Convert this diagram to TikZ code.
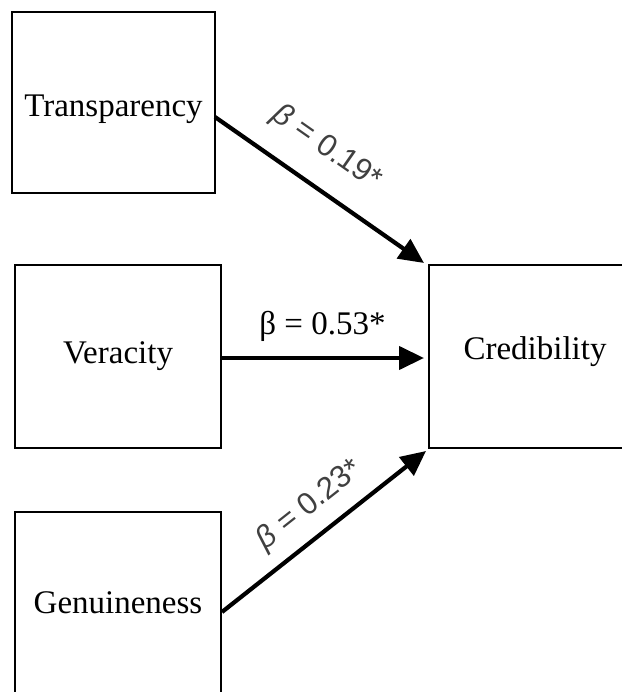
\documentclass[tikz,border=0pt]{standalone}
\usepackage{fontspec}
\setmainfont{Liberation Serif}
\newfontfamily\labelsans{Liberation Sans}
\usetikzlibrary{arrows.meta,calc}
\begin{document}
\begin{tikzpicture}[x=1pt,y=-1pt,
  varbox/.style={draw,line width=1.6pt,inner sep=0pt,outer sep=0pt,
    minimum height=183pt},
  boxtext/.style={inner sep=0pt,font=\fontsize{33}{38}\selectfont},
  effect/.style={line width=4.2pt,-{Triangle[length=25pt,width=23pt]}},
  coef/.style={inner sep=0pt,font=\fontsize{33}{38}\selectfont},
  slopedcoef/.style={inner sep=0pt,sloped,text=black!75,
    font=\labelsans\fontsize{31}{36}\selectfont}
]
\useasboundingbox (0,0) rectangle (621,692);

% predictor and outcome boxes
\node[varbox,minimum width=203pt,minimum height=181pt] (trans) at (113.5,102.5) {};
\node[varbox,minimum width=206pt] (ver) at (118,356.5) {};
\node[varbox,minimum width=206pt] (gen) at (118,603.5) {};
\node[varbox,minimum width=212pt] (cred) at (535,356.5) {};

% variable names
\node[boxtext] (transname) at ([shift={(0,7)}]trans.center) {Transparency};
\node[boxtext] (vername) at (ver.center) {Veracity};
\node[boxtext] (genname) at ([shift={(0,-1)}]gen.center) {Genuineness};
\node[boxtext] (credname) at ([shift={(0,-5)}]cred.center) {Credibility};

% path coefficients
\draw[effect] ([shift={(0,14.5)}]trans.east) -- ([shift={(-5,-2)}]cred.north west)
  node[slopedcoef,pos=0.43,above=22pt] {{\itshape β} = 0.19*};
\draw[effect] ([shift={(0,1.5)}]ver.east) -- ([shift={(-5,1.5)}]cred.west)
  node[coef,midway,above=14pt] {β = 0.53*};
\draw[effect] ([shift={(1,8.5)}]gen.east) -- ([shift={(-3,3)}]cred.south west)
  node[slopedcoef,pos=0.52,above=13pt] {{\itshape β} = 0.23*};
\end{tikzpicture}
\end{document}
